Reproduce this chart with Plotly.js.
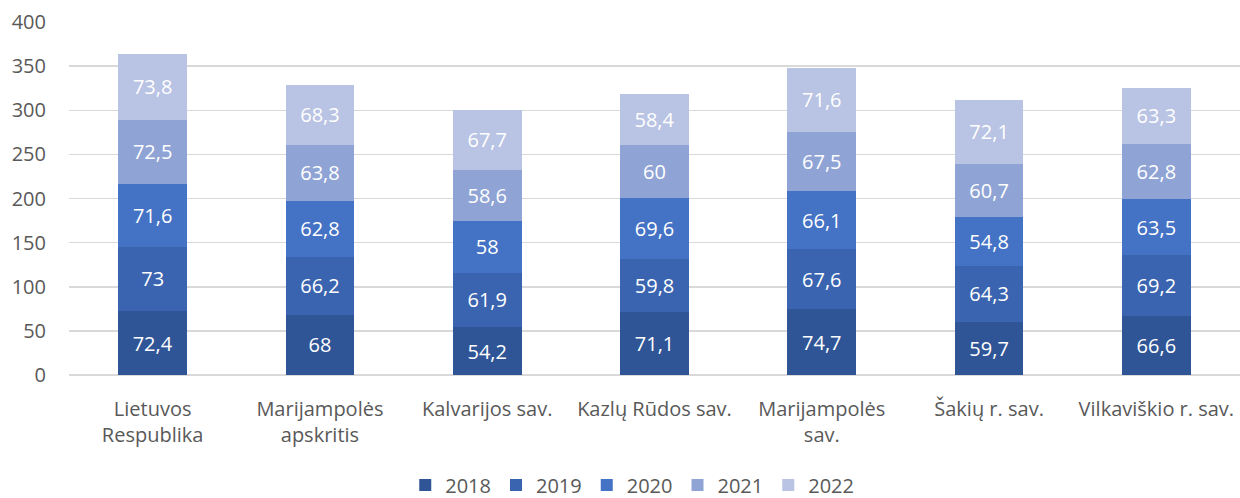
<!DOCTYPE html>
<html>
<head>
<meta charset="utf-8">
<script src="https://cdn.plot.ly/plotly-3.0.1.min.js"></script>
<style>html,body{margin:0;padding:0;background:#fff;}#chart{width:1240px;height:498px;}</style>
</head>
<body>
<div id="chart"></div>
<script>
const categories = ["Lietuvos<br>Respublika", "Marijampolės<br>apskritis", "Kalvarijos sav.", "Kazlų Rūdos sav.", "Marijampolės<br>sav.", "Šakių r. sav.", "Vilkaviškio r. sav."];
const years = ["2018", "2019", "2020", "2021", "2022"];
const v2018 = [72.4, 68, 54.2, 71.1, 74.7, 59.7, 66.6];
const v2019 = [73, 66.2, 61.9, 59.8, 67.6, 64.3, 69.2];
const v2020 = [71.6, 62.8, 58, 69.6, 66.1, 54.8, 63.5];
const v2021 = [72.5, 63.8, 58.6, 60, 67.5, 60.7, 62.8];
const v2022 = [73.8, 68.3, 67.7, 58.4, 71.6, 72.1, 63.3];
const yTicks = [0, 50, 100, 150, 200, 250, 300, 350, 400];

const series = [v2018, v2019, v2020, v2021, v2022];
const colors = ["#2F5597", "#3A64AF", "#4472C4", "#8FA4D5", "#B9C3E3"];
const FONT = "'Open Sans', sans-serif";

const traces = series.map((vals, i) => ({
  type: "bar",
  name: years[i],
  x: categories,
  y: vals,
  text: vals.map(v => String(v).replace(".", ",")),
  textposition: "inside",
  insidetextanchor: "middle",
  textangle: 0,
  textfont: {family: FONT, size: 20, color: "#ffffff"},
  marker: {color: colors[i], line: {width: 0}},
  hoverinfo: "none",
  cliponaxis: false
}));

const layout = {
  width: 1240,
  height: 498,
  margin: {l: 69, r: 0, t: 22, b: 123, autoexpand: false},
  barmode: "stack",
  bargap: 0.59,
  paper_bgcolor: "#ffffff",
  plot_bgcolor: "#ffffff",
  font: {family: FONT, size: 20, color: "#595959"},
  xaxis: {
    type: "category",
    showgrid: false,
    showline: false,
    ticks: "",
    automargin: false,
    tickfont: {family: FONT, size: 20, color: "#595959"},
    ticklabelstandoff: 20,
    fixedrange: true
  },
  yaxis: {
    range: [0, 400],
    tickvals: yTicks,
    ticktext: yTicks.map(String),
    showgrid: true,
    gridcolor: "#D9D9D9",
    gridwidth: 1.5,
    zeroline: true,
    zerolinecolor: "#D9D9D9",
    zerolinewidth: 1.5,
    showline: false,
    ticks: "",
    automargin: false,
    tickfont: {family: FONT, size: 20, color: "#595959"},
    ticklabelstandoff: 22,
    fixedrange: true
  },
  showlegend: true,
  legend: {
    orientation: "h",
    x: 0.481,
    xanchor: "center",
    xref: "paper",
    yref: "container",
    y: 0.026,
    yanchor: "middle",
    font: {family: FONT, size: 20, color: "#595959"},
    traceorder: "normal",
    itemwidth: 30,
    tracegroupgap: 0,
    itemclick: false
  }
};

Plotly.newPlot("chart", traces, layout, {displayModeBar: false, staticPlot: true});
</script>
</body>
</html>
